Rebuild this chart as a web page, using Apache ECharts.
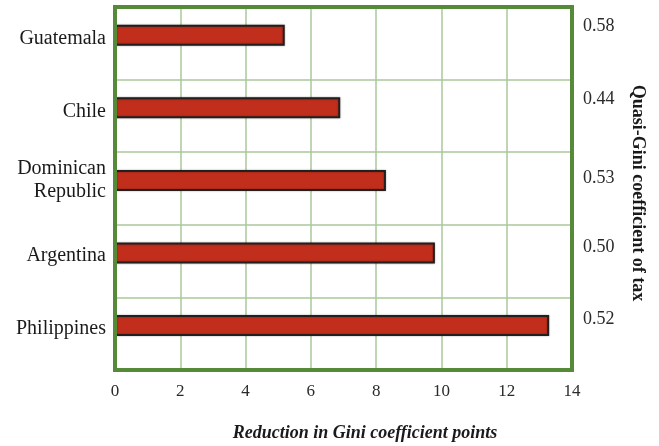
<!DOCTYPE html>
<html>
<head>
<meta charset="utf-8">
<script src="https://cdn.jsdelivr.net/npm/echarts@6/dist/echarts.min.js"></script>
<style>
  html, body { margin: 0; padding: 0; background: #ffffff; }
  #chart { width: 659px; height: 446px; }
</style>
</head>
<body>
<div id="chart"></div>
<script>
// Countries (top to bottom) and the drop in the Gini coefficient from taxes
const countries = ['Guatemala', 'Chile', 'Dominican\nRepublic', 'Argentina', 'Philippines'];
const giniReduction = [5.2, 6.9, 8.3, 9.8, 13.3];
// Quasi-Gini coefficient of each country's tax, shown on the right
const quasiGini = ['0.58', '0.44', '0.53', '0.50', '0.52'];
// Horizontal axis ticks
const xTicks = [0, 2, 4, 6, 8, 10, 12, 14];

// Small vertical lifts (px) for the label text beside each row
const leftLift = [4.3, 3.9, 8.5, 5.1, 4.7];
const rightLift = [17.3, 16.9, 10.5, 14.1, 14.7];

const serif = '"Liberation Serif", "Times New Roman", serif';
const frameGreen = '#548a38';
const gridGreen = '#a8c99b';

const leftRich = {};
const rightRich = {};
countries.forEach((c, i) => {
  leftRich['l' + i] = { fontFamily: serif, fontSize: 20, color: '#1a1a1a', lineHeight: 23 };
  rightRich['r' + i] = { fontFamily: serif, fontSize: 18, color: '#2a2a2a', padding: [0, 0, rightLift[i] * 2, 0] };
  leftRich['s' + i] = { fontSize: 1, lineHeight: leftLift[i] * 2 };
});

const chart = echarts.init(document.getElementById('chart'), null, { renderer: 'canvas' });

chart.setOption({
  animation: false,
  backgroundColor: '#ffffff',
  grid: {
    show: true,
    left: 115, right: 87, top: 7, bottom: 76,
    borderColor: frameGreen,
    borderWidth: 4,
    backgroundColor: 'transparent',
    z: 5
  },
  xAxis: {
    type: 'value',
    min: xTicks[0],
    max: xTicks[xTicks.length - 1],
    interval: xTicks[1] - xTicks[0],
    axisLine: { show: false },
    axisTick: { show: false },
    splitLine: { show: true, lineStyle: { color: gridGreen, width: 1.5 } },
    axisLabel: { fontFamily: serif, fontSize: 17, color: '#2a2a2a', margin: 13 }
  },
  yAxis: [
    {
      type: 'category',
      data: countries,
      inverse: true,
      axisLine: { show: false },
      axisTick: { show: false },
      splitLine: { show: true, lineStyle: { color: gridGreen, width: 1.5 } },
      axisLabel: {
        margin: 9,
        align: 'right',
        formatter: (value, i) => {
          const lines = value.split('\n').map(t => '{l' + i + '|' + t + '}');
          return lines.join('\n') + '\n{s' + i + '| }';
        },
        rich: leftRich
      }
    },
    {
      type: 'category',
      data: quasiGini,
      inverse: true,
      position: 'right',
      axisLine: { show: false },
      axisTick: { show: false },
      splitLine: { show: false },
      axisLabel: {
        margin: 11,
        align: 'left',
        formatter: (value, i) => '{r' + i + '|' + value + '}',
        rich: rightRich
      }
    }
  ],
  series: [
    {
      type: 'bar',
      data: giniReduction,
      barWidth: 21,
      barGap: '0%',
      itemStyle: {
        color: '#c12e1b',
        borderColor: '#241f1f',
        borderWidth: 2,
        shadowColor: 'rgba(0,0,0,0.3)',
        shadowBlur: 2
      },
      silent: true
    },
    {
      // empty slot that keeps each bar in the upper part of its row
      type: 'bar',
      data: giniReduction.map(() => null),
      barWidth: 16.2,
      barGap: '0%',
      itemStyle: { opacity: 0 },
      silent: true
    }
  ],
  graphic: [
    {
      type: 'text',
      x: 365, y: 433,
      style: {
        text: 'Reduction in Gini coefficient points',
        font: 'italic bold 18px ' + serif,
        fill: '#1a1a1a',
        align: 'center',
        verticalAlign: 'middle'
      }
    },
    {
      type: 'text',
      x: 638, y: 193,
      rotation: -Math.PI / 2,
      style: {
        text: 'Quasi-Gini coefficient of tax',
        font: 'bold 18px ' + serif,
        fill: '#1a1a1a',
        align: 'center',
        verticalAlign: 'middle'
      }
    }
  ]
});
</script>
</body>
</html>
